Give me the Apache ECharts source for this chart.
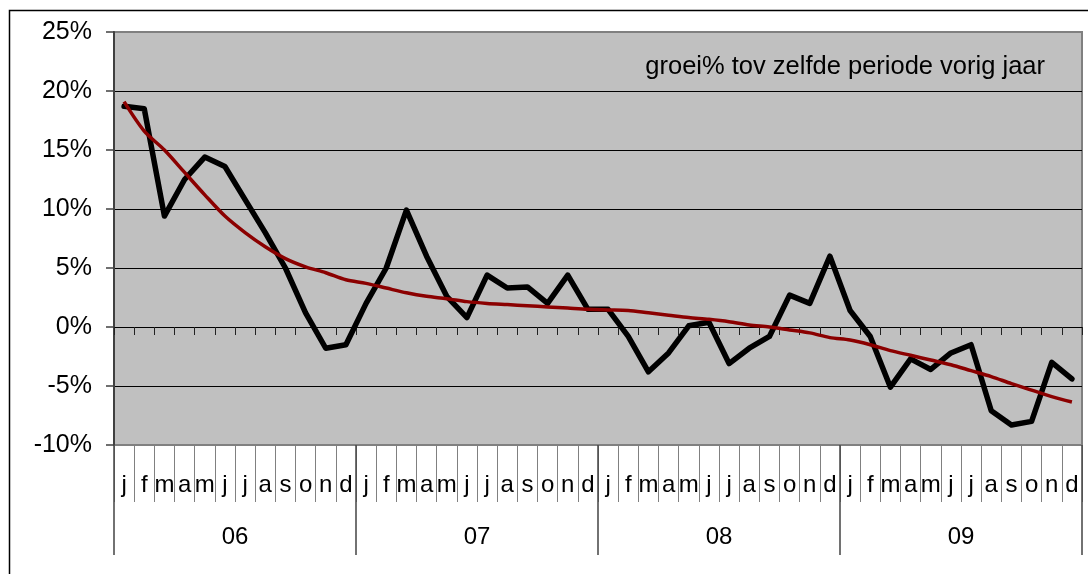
<!DOCTYPE html>
<html>
<head>
<meta charset="utf-8">
<script src="https://cdn.jsdelivr.net/npm/echarts@6/dist/echarts.min.js"></script>
<style>
  html, body { margin: 0; padding: 0; background: #fff; }
  #chart { width: 1088px; height: 574px; }
</style>
</head>
<body>
<div id="chart"></div>
<script>
// month letters, repeated for every year
const monthLetters = ['j', 'f', 'm', 'a', 'm', 'j', 'j', 'a', 's', 'o', 'n', 'd'];
const years = ['06', '07', '08', '09'];

// growth % versus same period previous year
const growth = [
    18.7, 18.5, 9.4, 12.5, 14.4, 13.6, 10.8, 8.0, 5.0, 1.2, -1.8, -1.5,
    2.0, 5.0, 9.9, 6.0, 2.6, 0.8, 4.4, 3.3, 3.4, 2.0, 4.4, 1.5,
    1.5, -0.8, -3.8, -2.2, 0.1, 0.4, -3.1, -1.8, -0.8, 2.7, 2.0, 6.0,
    1.4, -0.8, -5.1, -2.7, -3.6, -2.2, -1.5, -7.1, -8.3, -8.0, -3.0, -4.4
];

// trend line
const trend = [
    19.1, 16.6, 15.0, 13.1, 11.2, 9.4, 8.0, 6.8, 5.8, 5.1, 4.6, 4.0,
    3.7, 3.3, 2.9, 2.6, 2.4, 2.15, 2.0, 1.9, 1.8, 1.7, 1.6, 1.5,
    1.45, 1.4, 1.2, 1.0, 0.8, 0.65, 0.45, 0.17, 0.0, -0.25, -0.5, -0.9,
    -1.1, -1.5, -2.0, -2.4, -2.8, -3.2, -3.7, -4.2, -4.8, -5.35, -5.9, -6.35
];

const yTicks = { min: -10, max: 25, step: 5 };

// unique category keys, shown as the month letter
const categories = [];
years.forEach(y => monthLetters.forEach((m, i) => categories.push(y + '-' + i + '-' + m)));

const font = 'Liberation Sans, Arial, sans-serif';

const chartDom = document.getElementById('chart');
const myChart = echarts.init(chartDom);

const option = {
    animation: false,
    backgroundColor: '#fff',
    grid: {
        left: 114,
        top: 32,
        right: 6,
        bottom: 129,
        show: true,
        backgroundColor: '#c0c0c0',
        borderColor: '#808080',
        borderWidth: 2,
    },
    xAxis: [
        {
            // month labels + separators under the plot
            type: 'category',
            data: categories,
            position: 'bottom',
            boundaryGap: true,
            axisLine: { show: false, onZero: false },
            axisTick: {
                show: true,
                interval: 0,
                length: 57,
                lineStyle: { color: '#808080', width: 1 },
            },
            axisLabel: {
                interval: 0,
                hideOverlap: false,
                margin: 40,
                verticalAlign: 'middle',
                fontSize: 24,
                fontFamily: font,
                color: '#000',
                formatter: v => v.split('-')[2],
            },
            splitLine: { show: false },
        },
        {
            // axis line crossing at 0%
            type: 'category',
            data: categories,
            position: 'bottom',
            boundaryGap: true,
            axisLine: { show: true, onZero: true, lineStyle: { color: '#000', width: 1 } },
            axisTick: {
                show: true,
                interval: 0,
                length: 8,
                lineStyle: { color: '#222', width: 1 },
            },
            axisLabel: { show: false },
            splitLine: { show: false },
        },
        {
            // years
            type: 'category',
            data: years,
            position: 'bottom',
            boundaryGap: true,
            axisLine: { show: false, onZero: false },
            axisTick: {
                show: true,
                interval: 0,
                length: 110,
                lineStyle: { color: '#444', width: 1.5 },
            },
            axisLabel: {
                interval: 0,
                margin: 92,
                verticalAlign: 'middle',
                fontSize: 24,
                fontFamily: font,
                color: '#000',
            },
            splitLine: { show: false },
        },
    ],
    yAxis: {
        type: 'value',
        min: yTicks.min,
        max: yTicks.max,
        interval: yTicks.step,
        axisLine: { show: true, lineStyle: { color: '#404040', width: 2 } },
        axisTick: { show: true, length: 8, lineStyle: { color: '#404040', width: 1.5 } },
        axisLabel: {
            margin: 22,
            fontSize: 25,
            fontFamily: font,
            color: '#000',
            formatter: '{value}%',
        },
        splitLine: {
            show: true,
            lineStyle: {
                color: ['#808080', '#000', '#000', '#000', '#000', '#000', '#000', '#808080'],
                width: 1,
            },
        },
    },
    series: [
        {
            name: 'groei',
            type: 'line',
            xAxisIndex: 0,
            data: growth,
            symbol: 'none',
            lineStyle: { color: '#000', width: 5.5, join: 'round', cap: 'round' },
            z: 3,
        },
        {
            name: 'trend',
            type: 'line',
            xAxisIndex: 0,
            data: trend,
            symbol: 'none',
            smooth: 0.3,
            lineStyle: { color: '#8b0000', width: 3.5 },
            z: 4,
        },
    ],
    graphic: [
        {
            type: 'rect',
            shape: { x: 9.5, y: 10.5, width: 1100, height: 600 },
            style: { fill: 'none', stroke: '#000', lineWidth: 1.5 },
            silent: true,
            z: 10,
        },
        {
            type: 'text',
            x: 1045,
            y: 67,
            style: {
                text: 'groei% tov zelfde periode vorig jaar',
                fontSize: 25.5,
                fontFamily: font,
                fill: '#000',
                align: 'right',
                verticalAlign: 'middle',
            },
            z: 10,
        },
    ],
};

myChart.setOption(option);
</script>
</body>
</html>
